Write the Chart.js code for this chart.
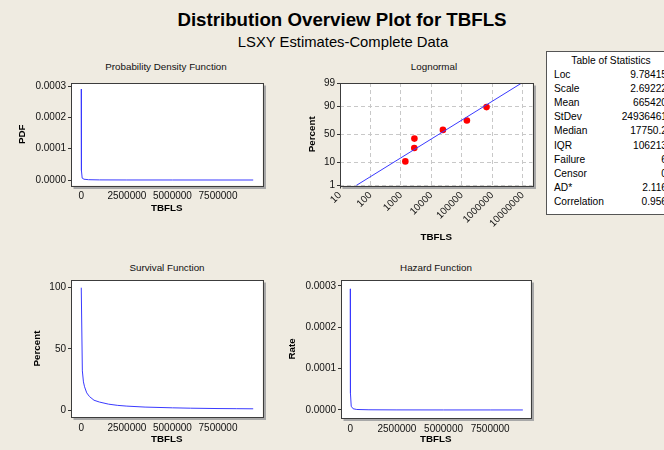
<!DOCTYPE html>
<html><head><meta charset="utf-8">
<script src="https://cdn.jsdelivr.net/npm/chart.js@4.4.1/dist/chart.umd.min.js"></script>
<style>
html,body{margin:0;padding:0;width:664px;height:450px;overflow:hidden;background:#efebe1;font-family:"Liberation Sans",Arial,sans-serif;}
canvas{position:absolute;left:0;top:0;}
.t{position:absolute;white-space:nowrap;color:#000;transform:translate(-50%,-50%);line-height:1;}
#title{left:342px;top:20px;font-weight:bold;font-size:18.7px;}
#subtitle{left:343px;top:42px;font-size:14.8px;}
.pt{font-size:9.8px;color:#111;}
#stats{position:absolute;left:546px;top:51px;width:130px;height:164px;background:#fff;border:1px solid #555;box-sizing:border-box;font-size:10.2px;color:#000;}
#stats .row{position:absolute;left:0;right:0;height:14px;line-height:14px;}
#stats .lab{position:absolute;left:7px;}
#stats .val{position:absolute;right:8px;}
#stats .hdr{position:absolute;left:0;right:0;text-align:center;height:14px;line-height:14px;}
</style></head>
<body>
<div id="title" class="t">Distribution Overview Plot for TBFLS</div>
<div id="subtitle" class="t">LSXY Estimates-Complete Data</div>
<div class="t pt" style="left:166px;top:67px">Probability Density Function</div>
<div class="t pt" style="left:434px;top:67px">Lognormal</div>
<div class="t pt" style="left:167px;top:268px">Survival Function</div>
<div class="t pt" style="left:436px;top:268px">Hazard Function</div>
<div id="stats"></div>
<canvas id="c1" width="664" height="450"></canvas>
<canvas id="c2" width="664" height="450"></canvas>
<canvas id="c3" width="664" height="450"></canvas>
<canvas id="c4" width="664" height="450"></canvas>
<script>
// ---------- data ----------
const pdfX = [0, 4000, 15000, 50000, 150000, 400000, 1000000, 2500000, 5000000, 7500000, 9430000];
const pdfY = [0.00029, 0.000145, 0.00003, 0.000006, 0.0000025, 0.000001, 0.0000004, 0.00000015, 0.00000006, 0.00000003, 0.00000002];

const survX = [0, 60000, 120000, 180000, 300000, 450000, 700000, 1000000, 1500000, 2000000, 2500000, 3500000, 5000000, 6000000, 7500000, 8500000, 9430000];
const survY = [100, 32, 23, 19, 14, 11, 8, 6.5, 4.8, 3.8, 3.2, 2.4, 1.8, 1.5, 1.2, 1.1, 1.0];

const hazX = [0, 4000, 15000, 50000, 150000, 350000, 1000000, 2500000, 5000000, 7500000, 9250000];
const hazY = [0.000293, 0.00015, 0.00004, 0.000009, 0.000003, 0.0000012, 0.0000005, 0.0000002, 0.0000001, 0.00000007, 0.00000005];

const lnX = [1400, 2750, 2780, 24000, 147000, 650000];
const lnPct = [10.9, 26.6, 42.2, 57.8, 73.4, 89.1];
const fitX = [34, 9300000];
const fitPct = [1, 99];

const linTicks = [0, 2500000, 5000000, 7500000];
const linTickLabels = ['0', '2500000', '5000000', '7500000'];
const rateTicks = [0, 0.0001, 0.0002, 0.0003];
const rateTickLabels = ['0.0000', '0.0001', '0.0002', '0.0003'];
const survTicks = [0, 50, 100];
const survTickLabels = ['0', '50', '100'];
const logTicks = [10, 100, 1000, 10000, 100000, 1000000, 10000000];
const logTickLabels = ['10', '100', '1000', '10000', '100000', '1000000', '10000000'];
const probTicks = [1, 10, 50, 90, 99];
const probTickLabels = ['1', '10', '50', '90', '99'];

const statLabels = ['Loc', 'Scale', 'Mean', 'StDev', 'Median', 'IQR', 'Failure', 'Censor', 'AD*', 'Correlation'];
const statValues = ['9.78415', '2.69222', '665420', '24936461', '17750.2', '106213', '6', '0', '2.116', '0.956'];

// ---------- stats table ----------
const st = document.getElementById('stats');
st.innerHTML = '<div class="hdr" style="top:2px">Table of Statistics</div>' +
  statLabels.map((l, i) => '<div class="row" style="top:' + (16 + i * 14.1).toFixed(1) + 'px"><span class="lab">' + l + '</span><span class="val">' + statValues[i] + '</span></div>').join('');

// ---------- probit scale ----------
function probit(p) {
  const a=[-3.969683028665376e+01,2.209460984245205e+02,-2.759285104469687e+02,1.383577518672690e+02,-3.066479806614716e+01,2.506628277459239e+00];
  const b=[-5.447609879822406e+01,1.615858368580409e+02,-1.556989798598866e+02,6.680131188771972e+01,-1.328068155288572e+01];
  const c=[-7.784894002430293e-03,-3.223964580411365e-01,-2.400758277161838e+00,-2.549732539343734e+00,4.374664141464968e+00,2.938163982698783e+00];
  const d=[7.784695709041462e-03,3.224671290700398e-01,2.445134137142996e+00,3.754408661907416e+00];
  const pl = 0.02425, ph = 1 - pl; let q, r;
  if (p < pl) { q = Math.sqrt(-2*Math.log(p)); return (((((c[0]*q+c[1])*q+c[2])*q+c[3])*q+c[4])*q+c[5])/((((d[0]*q+d[1])*q+d[2])*q+d[3])*q+1); }
  if (p <= ph) { q = p - 0.5; r = q*q; return (((((a[0]*r+a[1])*r+a[2])*r+a[3])*r+a[4])*r+a[5])*q/(((((b[0]*r+b[1])*r+b[2])*r+b[3])*r+b[4])*r+1); }
  q = Math.sqrt(-2*Math.log(1-p)); return -(((((c[0]*q+c[1])*q+c[2])*q+c[3])*q+c[4])*q+c[5])/((((d[0]*q+d[1])*q+d[2])*q+d[3])*q+1);
}
function ncdf(z) {
  let lo = 1e-9, hi = 1 - 1e-9;
  for (let i = 0; i < 60; i++) { const m = (lo + hi) / 2; if (probit(m) < z) lo = m; else hi = m; }
  return (lo + hi) / 2;
}
class ProbitScale extends Chart.LinearScale {
  static id = 'probit';
  static defaults = {};
  getPixelForValue(v) {
    const z0 = probit(this.min / 100), z1 = probit(this.max / 100);
    return this.getPixelForDecimal((probit(v / 100) - z0) / (z1 - z0));
  }
  getValueForPixel(px) {
    const z0 = probit(this.min / 100), z1 = probit(this.max / 100);
    return 100 * ncdf(z0 + this.getDecimalForPixel(px) * (z1 - z0));
  }
}
Chart.register(ProbitScale);

// ---------- common ----------
Chart.defaults.font.family = '"Liberation Sans", Arial, sans-serif';
Chart.defaults.font.size = 10;
Chart.defaults.color = '#111';

const framePlugin = {
  id: 'frame',
  beforeDraw(chart) {
    const {ctx, chartArea: a} = chart;
    ctx.save(); ctx.fillStyle = '#fff';
    ctx.fillRect(a.left, a.top, a.right - a.left, a.bottom - a.top);
    ctx.restore();
  },
  afterDraw(chart) {
    const {ctx, chartArea: a} = chart;
    const l = Math.round(a.left) + 0.5, t = Math.round(a.top) + 0.5, r = Math.round(a.right) + 0.5, b = Math.round(a.bottom) + 0.5;
    ctx.save();
    ctx.strokeStyle = '#a8a8a8'; ctx.lineWidth = 2;
    ctx.beginPath(); ctx.moveTo(r + 1.5, t + 2); ctx.lineTo(r + 1.5, b + 1.5); ctx.lineTo(l + 2, b + 1.5); ctx.stroke();
    ctx.strokeStyle = '#3c3c3c'; ctx.lineWidth = 1;
    ctx.strokeRect(l, t, r - l, b - t);
    ctx.restore();
  }
};

const BLUE = '#3a3aff';

function pts(xs, ys) { return xs.map((x, i) => ({x: x, y: ys[i]})); }

function xLinear(min, max, h) {
  return {
    type: 'linear', position: 'bottom', min: min, max: max, bounds: 'data',
    afterBuildTicks: s => { s.ticks = linTicks.map(v => ({value: v})); },
    afterFit: s => { s.height = h; },
    ticks: {autoSkip: false, maxRotation: 0, minRotation: 0, padding: 2, color: '#111', callback: (v, i) => linTickLabels[i]},
    grid: {drawOnChartArea: false, drawTicks: true, tickLength: 3, tickColor: '#333'},
    border: {display: false},
    title: {display: true, text: 'TBFLS', color: '#000', font: {size: 9.8, weight: 'bold'}, padding: {top: 0, bottom: 1}}
  };
}
function yLinear(min, max, ticks, labels, title, w, tpad) {
  return {
    type: 'linear', position: 'left', min: min, max: max, bounds: 'data',
    afterBuildTicks: s => { s.ticks = ticks.map(v => ({value: v})); },
    afterFit: s => { s.width = w; },
    ticks: {autoSkip: false, padding: 2, color: '#111', callback: (v, i) => labels[i]},
    grid: {drawOnChartArea: false, drawTicks: true, tickLength: 3, tickColor: '#333'},
    border: {display: false},
    title: {display: true, text: title, color: '#000', font: {size: 9.8, weight: 'bold'}, padding: {top: tpad, bottom: 0}}
  };
}
function curveChart(id, xs, ys, pad, xAxis, yAxis) {
  return new Chart(document.getElementById(id), {
    type: 'scatter',
    data: {datasets: [{data: pts(xs, ys), showLine: true, borderColor: BLUE, borderWidth: 1, pointRadius: 0, tension: 0}]},
    options: {
      responsive: false, animation: false,
      layout: {padding: pad},
      plugins: {legend: {display: false}, tooltip: {enabled: false}},
      scales: {x: xAxis, y: yAxis}
    },
    plugins: [framePlugin]
  });
}

// PDF panel
curveChart('c1', pdfX, pdfY,
  {left: 10, top: 83, right: 664 - 262.5, bottom: 450 - 215},
  xLinear(-563000, 9940000, 215 - 185.5),
  yLinear(-0.0000175, 0.0003096, rateTicks, rateTickLabels, 'PDF', 61, 6));

// Survival panel
curveChart('c3', survX, survY,
  {left: 25, top: 280, right: 664 - 262.5, bottom: 450 - 445.7},
  xLinear(-563000, 9940000, 445.7 - 417),
  yLinear(-5.7, 106.3, survTicks, survTickLabels, 'Percent', 46, 6));

// Hazard panel
curveChart('c4', hazX, hazY,
  {left: 280, top: 280, right: 664 - 530.5, bottom: 450 - 446.4},
  xLinear(-498000, 9660000, 446.4 - 418),
  yLinear(-0.0000194, 0.0003145, rateTicks, rateTickLabels, 'Rate', 61, 6));

// Lognormal probability plot
new Chart(document.getElementById('c2'), {
  type: 'scatter',
  data: {datasets: [
    {data: pts(fitX, fitPct), showLine: true, borderColor: BLUE, borderWidth: 1, pointRadius: 0},
    {data: pts(lnX, lnPct), showLine: false, pointRadius: 3.3, backgroundColor: '#ff0000', borderWidth: 0}
  ]},
  options: {
    responsive: false, animation: false,
    layout: {padding: {left: 300, top: 83, right: 664 - 532.5, bottom: 450 - 243.4}},
    plugins: {legend: {display: false}, tooltip: {enabled: false}},
    scales: {
      x: {
        type: 'logarithmic', position: 'bottom', min: 10, max: 21000000, bounds: 'data',
        afterBuildTicks: s => { s.ticks = logTicks.map(v => ({value: v})); },
        afterFit: s => { s.height = 243.4 - 185.5; },
        ticks: {autoSkip: false, minRotation: 45, maxRotation: 45, padding: 1, color: '#111', callback: (v, i) => logTickLabels[i]},
        grid: {drawOnChartArea: true, drawTicks: true, tickLength: 3, color: '#c8c8c8', tickColor: '#333'},
        border: {display: false, dash: [4, 3]},
        title: {display: true, text: 'TBFLS', color: '#000', font: {size: 9.8, weight: 'bold'}, padding: {top: 0, bottom: 0}}
      },
      y: {
        type: 'probit', position: 'left', min: 1, max: 99, bounds: 'data',
        afterBuildTicks: s => { s.ticks = probTicks.map(v => ({value: v})); },
        afterFit: s => { s.width = 40; },
        ticks: {autoSkip: false, padding: 2, color: '#111', callback: (v, i) => probTickLabels[i]},
        grid: {drawOnChartArea: true, drawTicks: true, tickLength: 3, color: '#c8c8c8', tickColor: '#333'},
        border: {display: false, dash: [4, 3]},
        title: {display: true, text: 'Percent', color: '#000', font: {size: 9.8, weight: 'bold'}, padding: {top: 6.3, bottom: 0}}
      }
    }
  },
  plugins: [framePlugin]
});
</script>
</body></html>
